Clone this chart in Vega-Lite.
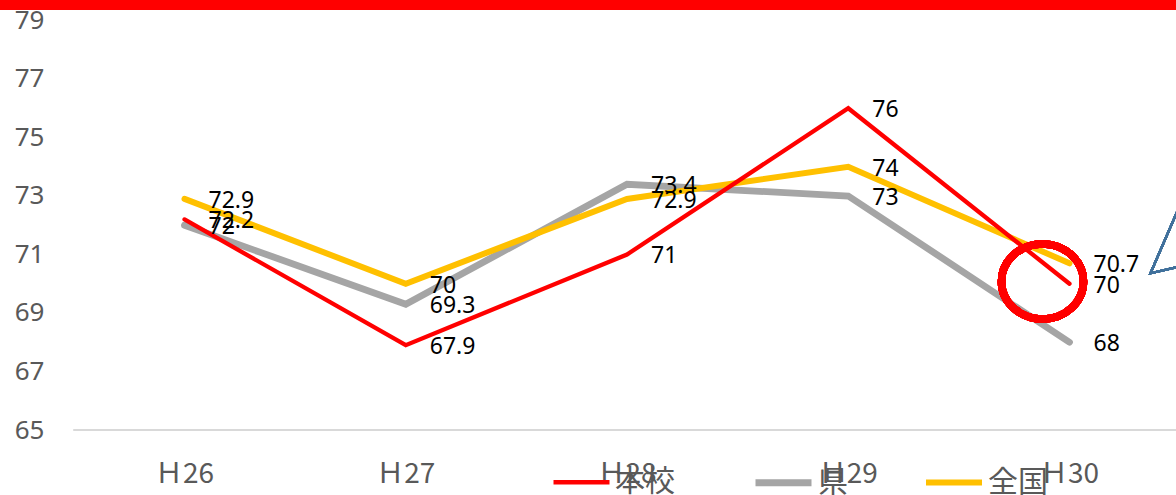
{
  "$schema": "https://vega.github.io/schema/vega-lite/v6.json",
  "autosize": "none",
  "padding": {"left": 0, "top": 0, "right": 0, "bottom": 65},
  "width": 1254,
  "height": 430,
  "background": "white",
  "config": {"view": {"stroke": null}},
  "data": {
    "values": [
      {"年度": "Ｈ26", "系列": "県", "値": 72},
      {"年度": "Ｈ27", "系列": "県", "値": 69.3},
      {"年度": "Ｈ28", "系列": "県", "値": 73.4},
      {"年度": "Ｈ29", "系列": "県", "値": 73},
      {"年度": "Ｈ30", "系列": "県", "値": 68},
      {"年度": "Ｈ26", "系列": "全国", "値": 72.9},
      {"年度": "Ｈ27", "系列": "全国", "値": 70},
      {"年度": "Ｈ28", "系列": "全国", "値": 72.9},
      {"年度": "Ｈ29", "系列": "全国", "値": 74},
      {"年度": "Ｈ30", "系列": "全国", "値": 70.7},
      {"年度": "Ｈ26", "系列": "本校", "値": 72.2},
      {"年度": "Ｈ27", "系列": "本校", "値": 67.9},
      {"年度": "Ｈ28", "系列": "本校", "値": 71},
      {"年度": "Ｈ29", "系列": "本校", "値": 76},
      {"年度": "Ｈ30", "系列": "本校", "値": 70}
    ]
  },
  "encoding": {
    "x": {
      "field": "年度",
      "type": "nominal",
      "scale": {"type": "band", "domain": ["Ｈ26", "Ｈ27", "Ｈ28", "Ｈ29", "Ｈ30"], "paddingInner": 0, "paddingOuter": 0.334},
      "axis": {
        "title": null,
        "domain": false,
        "ticks": false,
        "grid": false,
        "labelAngle": 0,
        "labelFont": "Noto Sans CJK JP",
        "labelFontSize": 28,
        "labelColor": "#595959",
        "labelPadding": 30
      }
    },
    "y": {
      "field": "値",
      "type": "quantitative",
      "scale": {"domain": [65, 79.7], "nice": false, "zero": false},
      "axis": {
        "title": null,
        "values": [65, 67, 69, 71, 73, 75, 77, 79],
        "domain": false,
        "ticks": false,
        "grid": false,
        "offset": -44,
        "labelPadding": 0,
        "labelFont": "Noto Sans",
        "labelFontSize": 26,
        "labelColor": "#595959"
      }
    }
  },
  "layer": [
    {
      "mark": {"type": "rect", "color": "#FF0000"},
      "encoding": {
        "x": null,
        "y": {"datum": 79.36, "type": "quantitative"},
        "y2": {"datum": 79.7}
      }
    },
    {
      "mark": {"type": "rule", "color": "#D9D9D9", "strokeWidth": 1.5},
      "encoding": {
        "x": {"datum": "Ｈ26", "type": "nominal", "bandPosition": 0},
        "x2": {"value": {"expr": "width"}},
        "y": {"datum": 65, "type": "quantitative"}
      }
    },
    {
      "mark": {"type": "line", "strokeCap": "round", "strokeJoin": "miter"},
      "encoding": {
        "color": {
          "field": "系列",
          "type": "nominal",
          "scale": {"domain": ["本校", "県", "全国"], "range": ["#FF0000", "#A5A5A5", "#FFC000"]},
          "legend": {
            "title": null,
            "orient": "none",
            "legendX": 551,
            "legendY": 451,
            "direction": "horizontal",
            "symbolType": "stroke",
            "symbolSize": 3136,
            "symbolStrokeWidth": 6,
            "labelFont": "Noto Sans CJK JP",
            "labelFontSize": 30,
            "labelColor": "#595959",
            "labelOffset": 3,
            "columnPadding": 66
          }
        },
        "strokeWidth": {
          "field": "系列",
          "type": "nominal",
          "scale": {"type": "ordinal", "domain": ["本校", "県", "全国"], "range": [4.3, 6.8, 6]},
          "legend": null
        }
      }
    },
    {
      "mark": {"type": "text", "align": "left", "baseline": "middle", "dx": 24, "dy": 2, "font": "Noto Sans", "fontSize": 23, "color": "#000000"},
      "encoding": {
        "text": {"field": "値", "type": "quantitative"}
      }
    },
    {
      "mark": {
        "type": "point",
        "shape": "M-1,0A1,0.915,0,1,0,1,0A1,0.915,0,1,0,-1,0Z",
        "size": 6724,
        "filled": false,
        "stroke": "#FF0000",
        "strokeWidth": 7.5,
        "opacity": 1,
        "xOffset": -27
      },
      "encoding": {
        "x": {"datum": "Ｈ30", "type": "nominal"},
        "y": {"datum": 70.08, "type": "quantitative"}
      }
    },
    {
      "mark": {
        "type": "point",
        "shape": "M3.5,-8.08L0,0L3.5,-0.8",
        "size": 400,
        "filled": false,
        "stroke": "#41719C",
        "strokeWidth": 2.2,
        "opacity": 1,
        "xOffset": 81
      },
      "encoding": {
        "x": {"datum": "Ｈ30", "type": "nominal"},
        "y": {"datum": 70.36, "type": "quantitative"}
      }
    }
  ]
}
